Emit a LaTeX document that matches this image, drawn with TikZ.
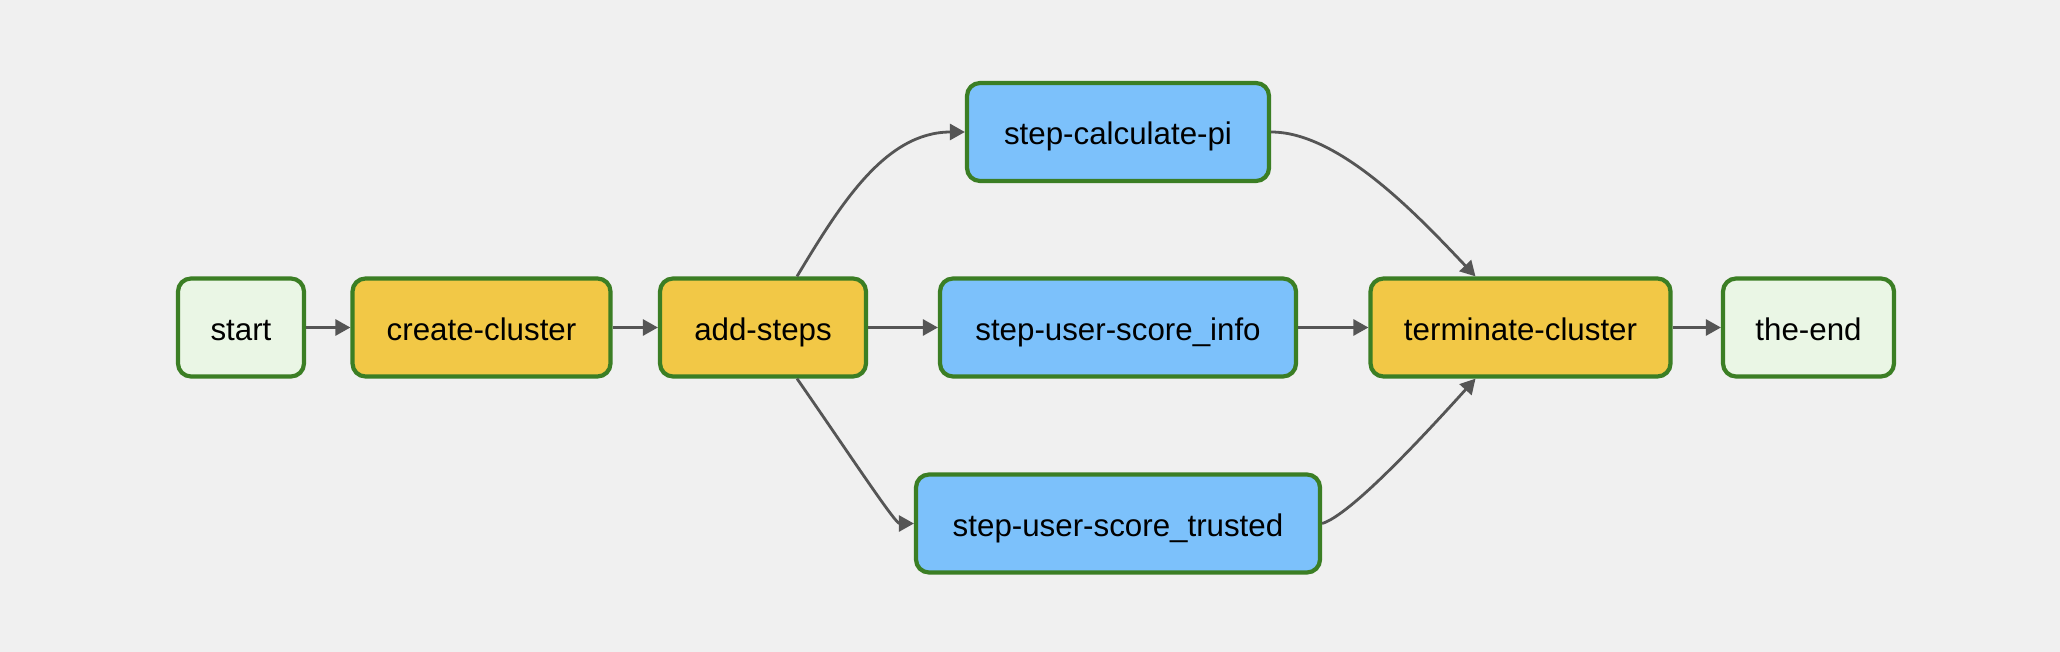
\documentclass[tikz,border=0pt]{standalone}
\usepackage{fontspec}
\setmainfont{Liberation Sans}
\usetikzlibrary{arrows.meta}
\definecolor{bg}{HTML}{F0F0F0}
\definecolor{bord}{HTML}{3B7E24}
\definecolor{lgreen}{HTML}{EAF6E5}
\definecolor{yel}{HTML}{F2C846}
\definecolor{blu}{HTML}{7CC1FB}
\definecolor{edgec}{HTML}{555555}
\tikzset{
  task/.style={draw=bord, line width=4.2pt, rounded corners=13pt, inner sep=0pt,
    minimum height=98pt, text height=26pt, text depth=0pt,
    font=\fontsize{31.3}{36}\selectfont, text=black, align=center},
  emptyop/.style={task, fill=lgreen},
  emrop/.style={task, fill=yel},
  stepop/.style={task, fill=blu},
  conn/.style={draw=edgec, line width=2.8pt, -{Triangle[length=15pt,width=16pt]}}
}
\begin{document}
\begin{tikzpicture}[x=1pt,y=-1pt]
\useasboundingbox (0,0) rectangle (2060,652);
\fill[bg] (0,0) rectangle (2060,652);
\node[emptyop, minimum width=126pt] (start) at (241,327.5) {start};
\node[emrop, minimum width=258pt] (create) at (481.5,327.5) {create-cluster};
\node[emrop, minimum width=206pt] (add) at (763,327.5) {add-steps};
\node[stepop, minimum width=302pt] (calc) at (1118,132) {step-calculate-pi};
\node[stepop, minimum width=356pt] (info) at (1118,327.5) {step-user-score\_info};
\node[stepop, minimum width=404pt] (trusted) at (1118,523.5) {step-user-score\_trusted};
\node[emrop, minimum width=300pt] (term) at (1520.5,327.5) {terminate-cluster};
\node[emptyop, minimum width=171pt] (end) at (1808.5,327.5) {the-end};

\draw[conn] (start.east) -- (create.west);
\draw[conn] (create.east) -- (add.west);
\draw[conn] (add.east) -- (info.west);
\draw[conn] (info.east) -- (term.west);
\draw[conn] (term.east) -- (end.west);
\draw[conn] ([xshift=34pt]add.north) .. controls (840,205) and (885,132) .. (calc.west);
\draw[conn] ([xshift=34pt]add.south) .. controls (850,455) and (895,523.5) .. (trusted.west);
\draw[conn] (calc.east) .. controls (1340,132) and (1420,218) .. ([xshift=-45pt]term.north);
\draw[conn] (trusted.east) .. controls (1350,515) and (1420,440) .. ([xshift=-45pt]term.south);
\end{tikzpicture}
\end{document}
